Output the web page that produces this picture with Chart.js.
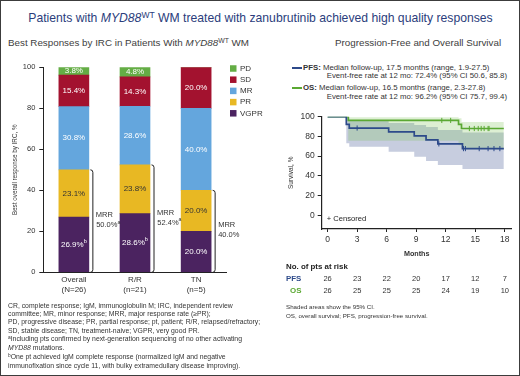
<!DOCTYPE html>
<html>
<head>
<meta charset="utf-8">
<script src="https://cdn.jsdelivr.net/npm/chart.js@4/dist/chart.umd.min.js"></script>
<style>
body { margin: 0; background: #fff; font-family: "Liberation Sans", Arial, sans-serif; }
#page { position: relative; width: 520px; height: 376px; overflow: hidden; background: #fff; }
#frame { position: absolute; left: 0; top: 0; width: 520px; height: 376px; box-sizing: border-box; border: 1px solid #3c3c3c; pointer-events: none; }
.t { position: absolute; white-space: nowrap; line-height: 1; }
.sup { font-size: 0.7em; position: relative; top: -0.45em; }
canvas { position: absolute; }
.key { position: absolute; height: 2px; width: 10px; }
</style>
</head>
<body>
<div id="page">
  <div class="t" style="left:0;width:521px;text-align:center;top:11.6px;font-size:12.2px;color:#2b3d7c">Patients with <i>MYD88</i><span class="sup">WT</span> WM treated with zanubrutinib achieved high quality responses</div>
  <div class="t" style="left:8px;top:37.9px;font-size:9.8px;color:#404040">Best Responses by IRC in Patients With <i>MYD88</i><span class="sup">WT</span> WM</div>
  <div class="t" style="left:335px;top:37.9px;font-size:9.8px;color:#404040">Progression-Free and Overall Survival</div>

  <div class="key" style="left:292px;top:67.3px;background:#2d4a8a"></div>
  <div class="t" style="left:303px;top:64px;font-size:7.8px;color:#333"><b>PFS:</b> Median follow-up, 17.5 months (range, 1.9-27.5)</div>
  <div class="t" style="left:326.7px;top:72.4px;font-size:7.8px;color:#333">Event-free rate at 12 mo: 72.4% (95% CI 50.6, 85.8)</div>
  <div class="key" style="left:292px;top:87.3px;background:#5aa832"></div>
  <div class="t" style="left:303px;top:84px;font-size:7.8px;color:#333"><b>OS:</b> Median follow-up, 16.5 months (range, 2.3-27.8)</div>
  <div class="t" style="left:326.7px;top:93.4px;font-size:7.8px;color:#333">Event-free rate at 12 mo: 96.2% (95% CI 75.7, 99.4)</div>

  <canvas id="bars" width="270" height="260" style="left:0;top:50px"></canvas>
  <canvas id="km" width="258" height="200" style="left:260px;top:100px"></canvas>

  <div class="t" style="left:8px;top:301.8px;font-size:6.85px;line-height:8.33px;color:#333">
    CR, complete response; IgM, immunoglobulin M; IRC, independent review<br>
    committee; MR, minor response; MRR, major response rate (≥PR);<br>
    PD, progressive disease; PR, partial response; pt, patient; R/R, relapsed/refractory;<br>
    SD, stable disease; TN, treatment-naive; VGPR, very good PR.<br>
    <span class="sup">a</span>Including pts confirmed by next-generation sequencing of no other activating<br>
    <i>MYD88</i> mutations.<br>
    <span class="sup">b</span>One pt achieved IgM complete response (normalized IgM and negative<br>
    immunofixation since cycle 11, with bulky extramedullary disease improving).
  </div>
  <div class="t" style="left:286px;top:303px;font-size:6.2px;line-height:8.7px;color:#333">
    Shaded areas show the 95% CI.<br>
    OS, overall survival; PFS, progression-free survival.
  </div>
  <div id="frame"></div>
</div>

<script>
// best response by IRC, % of patients
const categories = [['Overall', '(N=26)'], ['R/R', '(n=21)'], ['TN', '(n=5)']];
const vgpr = [26.9, 28.6, 20.0];
const pr = [23.1, 23.8, 20.0];
const mr = [30.8, 28.6, 40.0];
const sd = [15.4, 14.3, 20.0];
const pd = [3.8, 4.8, 0];
const vgprNotes = ['b', 'b', ''];
const mrr = [50.0, 52.4, 40.0];
const mrrNotes = ['a', 'a', ''];
const responseTicks = [0, 20, 40, 60, 80, 100];

// Kaplan-Meier curves (months, %)
const months = [0, 3, 6, 9, 12, 15, 18];
const survivalTicks = [0, 20, 40, 60, 80, 100];
const pfsTime = [0, 1.9, 2.2, 6.2, 8.8, 10.0, 11.2, 13.7, 17.9];
const pfsSurv = [100, 92.3, 88.5, 84.5, 80.5, 76.5, 72.4, 67.6, 67.6];
const pfsUpper = [100, 99.2, 96.0, 93.5, 91.5, 89.5, 86.5, 84.0, 84.0];
const pfsLower = [100, 73.0, 69.5, 64.3, 59.4, 55.0, 51.0, 47.0, 47.0];
const pfsCensored = [3.0, 11.3, 13.8, 14.0, 15.4, 16.3, 16.9, 17.5];
const osTime = [0, 2.1, 13.3, 13.6, 17.9];
const osSurv = [100, 96.2, 92.2, 88.0, 88.0];
const osUpper = [100, 99.4, 98.5, 94.5, 94.5];
const osLower = [100, 75.7, 71.0, 67.0, 67.0];
const osCensored = [11.6, 12.5, 14.4, 14.9, 15.3, 15.6, 15.9, 16.3, 16.4];
const pfsAtRisk = [26, 23, 22, 20, 17, 12, 7];
const osAtRisk = [26, 25, 25, 25, 24, 19, 10];

const FONT = '"Liberation Sans", Arial, sans-serif';
const NARROW = '"Liberation Sans Narrow", monospace';
const PFS_COLOR = '#2d4a8a';
const OS_COLOR = '#5aa832';
Chart.defaults.font.family = FONT;

// condensed axis titles if the narrow face is installed, else smaller regular text
const probe = document.createElement('canvas').getContext('2d');
probe.font = '20px monospace';
const monoW = probe.measureText('Survival, %').width;
probe.font = '20px ' + NARROW;
const hasNarrow = probe.measureText('Survival, %').width !== monoW;
const titleFont = (narrowSize, plainSize, bold) => hasNarrow
    ? { family: NARROW, size: narrowSize, weight: bold ? 'bold' : 'normal' }
    : { family: FONT, size: plainSize, weight: bold ? 'bold' : 'normal' };

function textWithNote(ctx, text, note, cx, cy, size) {
    ctx.font = size + 'px ' + FONT;
    const w1 = ctx.measureText(text).width;
    ctx.font = (size * 0.7) + 'px ' + FONT;
    const w2 = note ? ctx.measureText(note).width : 0;
    const left = cx - (w1 + w2) / 2;
    ctx.textAlign = 'left';
    ctx.font = size + 'px ' + FONT;
    ctx.fillText(text, left, cy);
    if (note) {
        ctx.font = (size * 0.7) + 'px ' + FONT;
        ctx.fillText(note, left + w1, cy - size * 0.38);
    }
}

const barExtras = {
    id: 'barExtras',
    afterDatasetsDraw(chart) {
        const ctx = chart.ctx;
        ctx.save();
        ctx.textBaseline = 'middle';
        chart.data.datasets.forEach((ds, di) => {
            chart.getDatasetMeta(di).data.forEach((bar, i) => {
                const v = ds.data[i];
                if (!v) return;
                ctx.fillStyle = ds.labelColor;
                textWithNote(ctx, v.toFixed(1) + '%', di === 0 ? vgprNotes[i] : '', bar.x, (bar.y + bar.base) / 2, 8);
            });
        });
        ctx.restore();
    },
    afterDraw(chart) {
        const ctx = chart.ctx;
        const y = chart.scales.y;
        ctx.save();
        // MRR brackets
        chart.getDatasetMeta(0).data.forEach((bar, i) => {
            const bx = bar.x + bar.width / 2 + 4;
            const yTop = y.getPixelForValue(mrr[i]);
            const yBot = y.getPixelForValue(0);
            ctx.strokeStyle = '#222';
            ctx.lineWidth = 1;
            ctx.beginPath();
            ctx.moveTo(bx - 2.5, yTop);
            ctx.quadraticCurveTo(bx, yTop, bx, yTop + 2.5);
            ctx.lineTo(bx, yBot - 2.5);
            ctx.quadraticCurveTo(bx, yBot, bx - 2.5, yBot);
            ctx.stroke();
            const mid = (yTop + yBot) / 2;
            ctx.fillStyle = '#333';
            ctx.textBaseline = 'middle';
            ctx.textAlign = 'left';
            ctx.font = '7.5px ' + FONT;
            ctx.fillText('MRR', bx + 3, mid - 6);
            const txt = mrr[i].toFixed(1) + '%';
            const w = ctx.measureText(txt).width;
            textWithNote(ctx, txt, mrrNotes[i], bx + 3 + (w + (mrrNotes[i] ? 3.5 : 0)) / 2, mid + 4, 7.5);
        });
        // legend, top to bottom
        const ds = chart.data.datasets.slice().reverse();
        ds.forEach((d, k) => {
            const cy = 18.5 + k * 11.2;
            ctx.fillStyle = d.backgroundColor;
            ctx.fillRect(230, cy - 3.25, 6.5, 6.5);
            ctx.fillStyle = '#333';
            ctx.font = '8px ' + FONT;
            ctx.textAlign = 'left';
            ctx.textBaseline = 'middle';
            ctx.fillText(d.label, 240, cy);
        });
        ctx.restore();
    }
};

new Chart(document.getElementById('bars'), {
    type: 'bar',
    data: {
        labels: categories,
        datasets: [
            { label: 'VGPR', data: vgpr, backgroundColor: '#4b2360', labelColor: '#fff' },
            { label: 'PR', data: pr, backgroundColor: '#e8b823', labelColor: '#333' },
            { label: 'MR', data: mr, backgroundColor: '#64a6dd', labelColor: '#fff' },
            { label: 'SD', data: sd, backgroundColor: '#a3122f', labelColor: '#fff' },
            { label: 'PD', data: pd, backgroundColor: '#64ad45', labelColor: '#fff' }
        ]
    },
    options: {
        responsive: false,
        animation: false,
        layout: { padding: { top: 17.3, bottom: 9.7, left: 0, right: 43.3 } },
        datasets: { bar: { barThickness: 30 } },
        plugins: { legend: { display: false }, tooltip: { enabled: false } },
        scales: {
            x: {
                stacked: true,
                grid: { display: false, drawTicks: false },
                border: { color: '#222', width: 1 },
                ticks: { font: { size: 8 }, color: '#333', padding: 3, maxRotation: 0 },
                afterFit(s) { s.height = 28; }
            },
            y: {
                stacked: true,
                min: 0,
                max: 100,
                afterBuildTicks(s) { s.ticks = responseTicks.map(v => ({ value: v })); },
                grid: { drawOnChartArea: false, tickLength: 4, color: '#222' },
                border: { color: '#222', width: 1 },
                ticks: { font: { size: 7.5 }, color: '#333', padding: 4 },
                title: { display: true, text: 'Best overall response by IRC, %', color: '#333', font: titleFont(7.5, 6.3, false), padding: { top: 11, bottom: 0 } },
                afterFit(s) { s.width = 43.3; }
            }
        }
    },
    plugins: [barExtras]
});

function stepValue(times, surv, t) {
    let v = surv[0];
    for (let i = 0; i < times.length; i++) {
        if (times[i] <= t) v = surv[i];
    }
    return v;
}

function points(times, vals) {
    return times.map((t, i) => ({ x: t, y: vals[i] }));
}

const kmExtras = {
    id: 'kmExtras',
    afterDraw(chart) {
        const ctx = chart.ctx;
        const x = chart.scales.x;
        const area = chart.chartArea;
        ctx.save();
        ctx.textBaseline = 'middle';
        ctx.textAlign = 'left';
        ctx.fillStyle = '#222';
        ctx.font = '7.6px ' + FONT;
        ctx.fillText('+', area.left + 5, area.bottom - 9.7);
        ctx.fillText('Censored', area.left + 11.5, area.bottom - 9.7);
        // numbers at risk
        ctx.font = 'bold 7.9px ' + FONT;
        ctx.fillText('No. of pts at risk', 26, 167);
        ctx.fillStyle = PFS_COLOR;
        ctx.fillText('PFS', 26, 179);
        ctx.fillStyle = OS_COLOR;
        ctx.fillText('OS', 30, 190.7);
        ctx.font = '7.5px ' + FONT;
        ctx.fillStyle = '#333';
        ctx.textAlign = 'center';
        months.forEach((m, i) => {
            const px = x.getPixelForValue(m);
            ctx.fillText(String(pfsAtRisk[i]), px, 179);
            ctx.fillText(String(osAtRisk[i]), px, 190.7);
        });
        ctx.restore();
    }
};

const band = { stepped: 'before', borderWidth: 0, borderColor: 'rgba(0,0,0,0)', pointRadius: 0 };

new Chart(document.getElementById('km'), {
    type: 'line',
    data: {
        datasets: [
            { data: pfsCensored.map(t => ({ x: t, y: stepValue(pfsTime, pfsSurv, t) })), showLine: false, pointStyle: 'line', rotation: 90, pointRadius: 2.6, borderColor: PFS_COLOR, borderWidth: 1 },
            { data: osCensored.map(t => ({ x: t, y: stepValue(osTime, osSurv, t) })), showLine: false, pointStyle: 'line', rotation: 90, pointRadius: 2.6, borderColor: OS_COLOR, borderWidth: 1 },
            { data: points(pfsTime, pfsSurv), stepped: 'before', borderColor: PFS_COLOR, borderWidth: 1.7, pointRadius: 0, fill: false },
            { data: points(osTime, osSurv), stepped: 'before', borderColor: OS_COLOR, borderWidth: 1.7, pointRadius: 0, fill: false },
            { ...band, data: points(osTime, osUpper), fill: '+1', backgroundColor: 'rgba(120,190,80,0.25)' },
            { ...band, data: points(osTime, osLower), fill: false },
            { ...band, data: points(pfsTime, pfsUpper), fill: '+1', backgroundColor: 'rgba(70,90,150,0.3)' },
            { ...band, data: points(pfsTime, pfsLower), fill: false }
        ]
    },
    options: {
        responsive: false,
        animation: false,
        layout: { padding: { top: 16.7, bottom: 41, left: 0, right: 6.3 } },
        plugins: { legend: { display: false }, tooltip: { enabled: false } },
        scales: {
            x: {
                type: 'linear',
                min: -0.6,
                max: 18.7,
                afterBuildTicks(s) { s.ticks = months.map(v => ({ value: v })); },
                grid: { drawOnChartArea: false, tickLength: 3, color: '#222' },
                border: { color: '#222', width: 1.2 },
                ticks: { font: { size: 8.5 }, color: '#333', padding: 3 },
                title: { display: true, text: 'Months', color: '#333', font: titleFont(8.5, 7.2, true), padding: { top: 0, bottom: 1 } },
                afterFit(s) { s.height = 30; }
            },
            y: {
                min: -14,
                max: 100,
                afterBuildTicks(s) { s.ticks = survivalTicks.map(v => ({ value: v })); },
                grid: { drawOnChartArea: false, tickLength: 4, color: '#222' },
                border: { color: '#222', width: 1.2 },
                ticks: { font: { size: 8.5 }, color: '#333', padding: 3 },
                title: { display: true, text: 'Survival, %', color: '#333', font: titleFont(7.5, 6.5, false), padding: { top: 27, bottom: 0 } },
                afterFit(s) { s.width = 61.7; }
            }
        }
    },
    plugins: [kmExtras]
});
</script>
</body>
</html>
